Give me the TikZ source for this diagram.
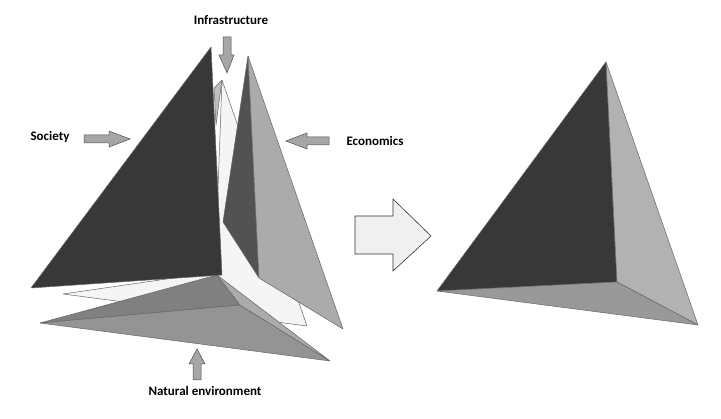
\documentclass[tikz,border=0pt]{standalone}
\usepackage{fontspec}
\setmainfont{Carlito}
\begin{document}
\begin{tikzpicture}[x=1pt,y=-1pt,
  face/.style={draw=black!60,line width=0.5pt,line join=round},
  lbl/.style={font=\bfseries\fontsize{13}{15}\selectfont,inner sep=0pt},
  sarrow/.style={draw=black!70,fill=black!35,line width=0.5pt}]
\useasboundingbox (0,0) rectangle (721,419);
% infrastructure (white) piece, behind
\draw[face,fill=black!4] (222,80) -- (307,326) -- (63,294) -- (215,272) -- cycle;
\draw[face,fill=black!25] (222,80) -- (214,88) -- (216,125) -- cycle;
% natural environment piece
\draw[face,fill=black!50] (40,323) -- (217,275) -- (240,305) -- cycle;
\draw[face,fill=black!42] (40,323) -- (240,305) -- (330,361) -- cycle;
\draw[face,fill=black!33] (217,275) -- (330,361) -- (240,305) -- cycle;
% economics piece
\draw[face,fill=black!68] (248,56) -- (223,222) -- (259,278) -- cycle;
\draw[face,fill=black!33] (248,56) -- (259,278) -- (343,329) -- cycle;
% society piece
\draw[face,fill=black!78] (211,47) -- (31,288) -- (222,275) -- cycle;
% big arrow
\draw[draw=black!80,fill=black!6,line width=0.6pt] (355,216) -- (393,216) -- (393,199) -- (431,236) -- (393,271) -- (393,254) -- (355,254) -- cycle;
% right tetrahedron
\draw[face,fill=black!78] (606,62) -- (437,291) -- (617,282) -- cycle;
\draw[face,fill=black!30] (606,62) -- (617,282) -- (698,325) -- cycle;
\draw[face,fill=black!40] (437,291) -- (617,282) -- (698,325) -- cycle;
% labels
\node[lbl] (inf) at (231,20) {Infrastructure};
\node[lbl] (soc) at (50,137) {Society};
\node[lbl] (eco) at (375,141) {Economics};
\node[lbl] (nat) at (205,391) {Natural environment};
% small arrows
\draw[sarrow] (84,135) -- (109,135) -- (109,131) -- (130,139) -- (109,147) -- (109,143) -- (84,143) -- cycle;
\draw[sarrow] (329,137) -- (307,137) -- (307,133) -- (286,141) -- (307,149) -- (307,145) -- (329,145) -- cycle;
\draw[sarrow] (223,37) -- (231,37) -- (231,55) -- (234,55) -- (227,73) -- (219,55) -- (223,55) -- cycle;
\draw[sarrow] (193,380) -- (201,380) -- (201,364) -- (205,364) -- (197,349) -- (189,364) -- (193,364) -- cycle;
\end{tikzpicture}
\end{document}
